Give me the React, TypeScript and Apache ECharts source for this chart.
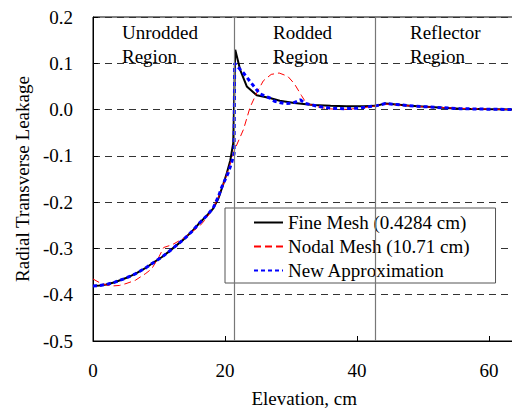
import React, { useEffect, useRef } from 'react';
import * as echarts from 'echarts';

// Fine mesh (0.4284 cm) – black solid
const fineX = [0, 1, 2, 3.3, 5, 6.4, 8, 8.9, 10.4, 11.4, 12.5, 13.7, 15, 16.2, 17.2, 18.2, 19.0, 19.7, 20.3, 20.8, 21.25, 21.55, 22.3, 23.3, 24.8, 26.8, 28.3, 30.5, 33.4, 36, 38.4, 41, 42.84, 44.3, 46, 48, 50.5, 53, 55.6, 59, 64];
const fineY = [-0.381, -0.380, -0.378, -0.373, -0.364, -0.355, -0.342, -0.333, -0.319, -0.308, -0.295, -0.281, -0.263, -0.244, -0.230, -0.214, -0.192, -0.163, -0.136, -0.110, -0.072, 0.129, 0.086, 0.050, 0.031, 0.025, 0.019, 0.014, 0.010, 0.008, 0.007, 0.007, 0.008, 0.013, 0.011, 0.008, 0.006, 0.004, 0.002, 0.001, 0.0];

// Nodal mesh (10.71 cm) – red dashed
const nodalX = [0, 1, 2, 3, 4, 5, 6.4, 8, 8.9, 10, 10.71, 12, 13, 14, 15, 16.2, 17, 18, 19, 20, 21, 21.42, 22.8, 23.8, 24.8, 25.8, 27, 28.2, 29.5, 30.5, 31.6, 32.13, 32.9, 34, 35.5, 37.4, 39, 41, 42.84, 44.3, 46, 50, 55, 60, 64];
const nodalY = [-0.366, -0.374, -0.379, -0.381, -0.380, -0.376, -0.369, -0.354, -0.344, -0.318, -0.298, -0.292, -0.284, -0.275, -0.264, -0.251, -0.238, -0.218, -0.190, -0.152, -0.108, -0.088, -0.043, 0.005, 0.036, 0.062, 0.076, 0.079, 0.072, 0.056, 0.030, 0.018, 0.011, 0.006, 0.002, 0.0, 0.001, 0.004, 0.008, 0.012, 0.010, 0.006, 0.003, 0.001, 0.0];

// New approximation – blue dotted
const newX = [0, 1, 2, 3.3, 5, 6.4, 8, 8.9, 10.4, 11.4, 12.5, 13.7, 15, 16.2, 17.2, 18.2, 19.0, 19.5, 20.5, 21.0, 21.38, 21.46, 22.8, 24.0, 25.3, 26.8, 27.5, 29.0, 30.3, 31.4, 32.2, 32.9, 34, 36, 38, 40, 42.84, 44.3, 46, 48, 50.5, 53, 55.6, 59, 64];
const newY = [-0.381, -0.380, -0.378, -0.373, -0.364, -0.355, -0.342, -0.333, -0.319, -0.308, -0.295, -0.281, -0.263, -0.244, -0.230, -0.213, -0.188, -0.168, -0.136, -0.115, -0.095, 0.100, 0.079, 0.057, 0.034, 0.025, 0.018, 0.013, 0.014, 0.021, 0.013, 0.011, 0.007, 0.003, 0.002, 0.003, 0.008, 0.013, 0.011, 0.008, 0.006, 0.004, 0.002, 0.001, 0.0];

const regionBoundaries = [21.42, 42.84];
const regionLabels = ['Unrodded\nRegion', 'Rodded\nRegion', 'Reflector\nRegion'];
const regionLabelX = [122, 273, 410];
const seriesNames = ['Fine Mesh (0.4284 cm)', 'Nodal Mesh (10.71 cm)', 'New Approximation'];

const FONT = 'Liberation Serif';

export default function App() {
  const ref = useRef<HTMLDivElement>(null);
  useEffect(() => {
    if (!ref.current) return;
    const chart = echarts.init(ref.current, undefined, { renderer: 'svg' });
    const pairs = (xs: number[], ys: number[]) => xs.map((x, i) => [x, ys[i]]);
    chart.setOption({
      animation: false,
      backgroundColor: '#fff',
      textStyle: { fontFamily: FONT, fontSize: 19 },
      grid: {
        left: 93, top: 17, right: -3.4, bottom: 73,
        outerBoundsMode: 'none', containLabel: false,
        show: true, borderColor: '#000', borderWidth: 1, backgroundColor: 'transparent',
      },
      legend: {
        orient: 'vertical',
        left: 225, top: 208,
        padding: [5, 26, 3, 28],
        itemGap: 5,
        itemWidth: 29, itemHeight: 14,
        itemStyle: { opacity: 0 },
        backgroundColor: '#fff',
        borderColor: '#555', borderWidth: 1,
        textStyle: { fontFamily: FONT, fontSize: 19, color: '#000', lineHeight: 19 },
        data: seriesNames,
      },
      xAxis: {
        type: 'value', min: 0, max: 64, interval: 20,
        name: 'Elevation, cm', nameLocation: 'middle', nameGap: 48,
        nameTextStyle: { fontFamily: FONT, fontSize: 19, color: '#000' },
        axisLine: { onZero: false, lineStyle: { color: '#000', width: 1 } },
        axisTick: { inside: true, length: 5, lineStyle: { color: '#000' } },
        axisLabel: {
          fontFamily: FONT, fontSize: 19, color: '#000', margin: 20,
          formatter: (v: number) => (Math.abs(v % 20) < 1e-9 ? String(v) : ''),
        },
        splitLine: { show: false },
      },
      yAxis: {
        type: 'value', min: -0.5, max: 0.2, interval: 0.1,
        name: 'Radial Transverse Leakage', nameLocation: 'middle', nameGap: 60,
        nameTextStyle: { fontFamily: FONT, fontSize: 19, color: '#000' },
        axisLine: { onZero: false, lineStyle: { color: '#000', width: 1 } },
        axisTick: { inside: true, length: 5, lineStyle: { color: '#000' } },
        axisLabel: {
          fontFamily: FONT, fontSize: 19, color: '#000', margin: 20,
          formatter: (v: number) => v.toFixed(1),
        },
        splitLine: { show: true, lineStyle: { color: '#333', type: [7, 5], width: 1 } },
      },
      graphic: regionLabels.map((t, i) => ({
        type: 'text', x: regionLabelX[i], y: 20, z: 5,
        style: { text: t, font: `19px ${FONT}`, fill: '#000', lineHeight: 24.5 },
      })),
      series: [
        {
          name: seriesNames[0], type: 'line', data: pairs(fineX, fineY),
          symbol: 'none', lineStyle: { color: '#000', width: 2 }, itemStyle: { color: '#000' },
          markLine: {
            silent: true, symbol: 'none', label: { show: false },
            lineStyle: { color: '#777', type: 'solid', width: 1.2 },
            data: regionBoundaries.map((b) => ({ xAxis: b })),
          },
          z: 2,
        },
        {
          name: seriesNames[1], type: 'line', data: pairs(nodalX, nodalY),
          symbol: 'none', lineStyle: { color: '#ff0000', width: 1, type: [7, 4] }, itemStyle: { color: '#ff0000' },
          z: 3,
        },
        {
          name: seriesNames[2], type: 'line', data: pairs(newX, newY),
          symbol: 'none', lineStyle: { color: '#0000ff', width: 3, type: [4, 3] }, itemStyle: { color: '#0000ff' },
          z: 4,
        },
      ],
    });
    return () => chart.dispose();
  }, []);
  return <div ref={ref} style={{ width: 512, height: 414, position: 'absolute', left: 0, top: 0 }} />;
}
